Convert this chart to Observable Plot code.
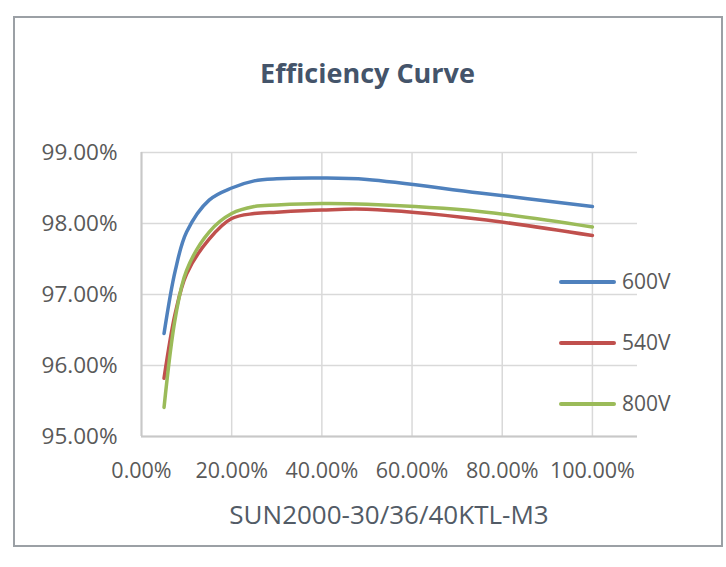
<!DOCTYPE html>
<html><head><meta charset="utf-8">
<script src="https://cdn.jsdelivr.net/npm/d3@7"></script>
<script src="https://cdn.jsdelivr.net/npm/@observablehq/plot@0.6"></script>
<style>
body{margin:0;width:726px;height:567px;position:relative;background:#fff;overflow:hidden;font-family:"Open Sans",sans-serif;}
#frame{position:absolute;left:13px;top:16px;width:706px;height:527px;border:2px solid #9ba0a5;}
#title{position:absolute;left:14px;width:707px;top:59px;text-align:center;font-size:27px;line-height:27px;font-weight:700;color:#44546a;}
#chart{position:absolute;left:0;top:130px;}
#sub{position:absolute;left:141px;width:496px;top:501px;text-align:center;font-size:26px;line-height:26px;color:#525b66;}
.leg{position:absolute;left:559px;display:flex;align-items:center;font-size:21px;line-height:21px;color:#595959;white-space:nowrap;}
.leg .sw{display:inline-block;width:57px;height:4px;border-radius:2px;margin-right:6px;}
</style></head>
<body>
<div id="frame"></div>
<div id="title">Efficiency Curve</div>
<div id="chart"></div>
<div id="sub">SUN2000-30/36/40KTL-M3</div>
<script>
const loads = [5, 7.5, 10, 15, 20, 25, 30, 40, 50, 75, 100];
const eff600 = [96.45, 97.34, 97.88, 98.33, 98.50, 98.60, 98.63, 98.64, 98.62, 98.43, 98.24];
const eff540 = [95.82, 96.74, 97.29, 97.78, 98.07, 98.14, 98.16, 98.19, 98.20, 98.06, 97.83];
const eff800 = [95.41, 96.67, 97.34, 97.88, 98.14, 98.24, 98.26, 98.28, 98.27, 98.17, 97.95];
const series = ["600V", "540V", "800V"];
const colors = ["#4f81bd", "#c0504d", "#9bbb59"];
const xTicks = [0, 20, 40, 60, 80, 100];
const yTicks = [95, 96, 97, 98, 99];

const values = [eff600, eff540, eff800];
const data = series.flatMap((s, i) => loads.map((l, j) => ({series: s, load: l, eff: values[i][j]})));
const fmt = d => d.toFixed(2) + "%";

const chart = Plot.plot({
  width: 726, height: 350,
  marginLeft: 141, marginRight: 89, marginTop: 22, marginBottom: 44,
  style: {fontFamily: "Open Sans", fontSize: "21px", color: "#595959", background: "transparent", overflow: "visible"},
  x: {domain: [0, 110], label: null},
  y: {domain: [95, 99], label: null},
  color: {domain: series, range: colors},
  marks: [
    Plot.gridX(xTicks, {stroke: "#d9d9d9", strokeOpacity: 1, strokeWidth: 1.5}),
    Plot.gridY(yTicks, {stroke: "#d9d9d9", strokeOpacity: 1, strokeWidth: 1.5}),
    Plot.ruleX([0], {stroke: "#c8c8c8", strokeWidth: 2}),
    Plot.ruleY([95], {stroke: "#c8c8c8", strokeWidth: 2}),
    Plot.axisX(xTicks, {tickSize: 0, tickPadding: 26, tickFormat: fmt, label: null, fontSize: 21.5}),
    Plot.axisY(yTicks, {tickSize: 0, tickPadding: 24, tickFormat: fmt, label: null, fontSize: 22.5}),
    Plot.line(data, {x: "load", y: "eff", stroke: "series", z: "series", curve: "catmull-rom", strokeWidth: 3.5, strokeLinecap: "round", strokeLinejoin: "round"})
  ]
});
document.getElementById("chart").appendChild(chart);

series.forEach((s, i) => {
  const d = document.createElement("div");
  d.className = "leg";
  d.style.top = (271 + i * 61) + "px";
  const sw = document.createElement("span");
  sw.className = "sw";
  sw.style.background = colors[i];
  d.appendChild(sw);
  d.appendChild(document.createTextNode(s));
  document.body.appendChild(d);
});
</script>
</body></html>
